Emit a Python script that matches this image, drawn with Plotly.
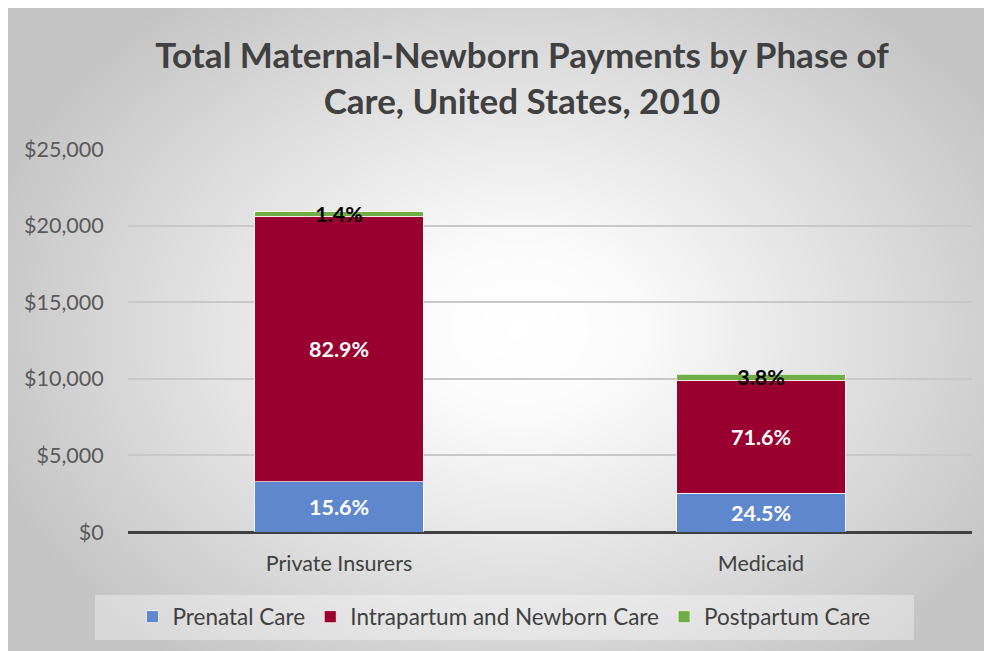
import numpy as np
import plotly.graph_objects as go

# Data
payers = ["Private Insurers", "Medicaid"]
phases = ["Prenatal Care", "Intrapartum and Newborn Care", "Postpartum Care"]
prenatal = [3265, 2527]
intrapartum = [17351, 7384]
postpartum = [293, 392]
prenatal_pct = ["15.6%", "24.5%"]
intrapartum_pct = ["82.9%", "71.6%"]
postpartum_pct = ["1.4%", "3.8%"]
y_ticks = [0, 5000, 10000, 15000, 20000, 25000]
y_tick_text = ["$0", "$5,000", "$10,000", "$15,000", "$20,000", "$25,000"]

colors = ["#5f87cd", "#990030", "#70ad47"]
FONT = "Lato"
W, H = 992, 651

fig = go.Figure()

# radial grey->white background (decorative), on the first subplot so bars draw above it
gx = np.linspace(-60, W + 60, 90)
gy = np.linspace(-60, H + 60, 70)
GX, GY = np.meshgrid(gx, gy)
r = np.sqrt(((GX - 512) / 560) ** 2 + ((GY - 322) / 420) ** 2)
shade = np.clip(r, 0, 1)
fig.add_trace(go.Heatmap(
    x=gx, y=gy, z=shade, xaxis="x", yaxis="y",
    colorscale=[[0, "#ffffff"], [0.2, "#fbfbfb"], [1, "#c4c4c4"]],
    zmin=0, zmax=1, zsmooth="best", showscale=False, hoverinfo="skip",
))

series = [
    (phases[0], prenatal, prenatal_pct, colors[0], "white"),
    (phases[1], intrapartum, intrapartum_pct, colors[1], "white"),
    (phases[2], postpartum, postpartum_pct, colors[2], "black"),
]
for name, vals, txt, col, tcol in series:
    fig.add_trace(go.Bar(
        x=payers, y=vals, name=name, xaxis="x2", yaxis="y2",
        marker={"color": col, "line": {"color": "rgba(255,255,255,0.7)", "width": 1}},
        text=txt, textposition="inside", insidetextanchor="middle",
        constraintext="none", cliponaxis=False,
        textfont={"family": FONT, "size": 21.5, "color": tcol, "weight": "bold"},
    ))

fig.update_layout(
    width=W, height=H,
    margin={"l": 0, "r": 0, "t": 0, "b": 0, "autoexpand": False},
    paper_bgcolor="white",
    plot_bgcolor="rgba(0,0,0,0)",
    barmode="stack",
    bargap=0.6,
    font={"family": FONT, "color": "#595959"},
    title={
        "text": "Total Maternal-Newborn Payments by Phase of<br>Care, United States, 2010",
        "x": 514 / W, "xanchor": "center", "y": 1 - 60 / H, "yanchor": "top",
        "font": {"family": FONT, "size": 35, "color": "#404040", "weight": "bold"},
    },
    xaxis={"domain": [0, 1], "range": [0, W], "visible": False, "fixedrange": True, "automargin": False},
    yaxis={"domain": [0, 1], "range": [H, 0], "visible": False, "fixedrange": True, "automargin": False},
    xaxis2={
        "domain": [120 / W, 964 / W], "anchor": "y2", "automargin": False,
        "ticks": "outside", "ticklen": 12, "tickcolor": "rgba(0,0,0,0)",
        "tickfont": {"size": 21.5, "color": "#404040"},
        "showgrid": False, "showline": False, "zeroline": False,
    },
    yaxis2={
        "domain": [(H - 524) / H, (H - 141) / H], "anchor": "x2", "automargin": False,
        "range": [0, 25000],
        "tickvals": y_ticks, "ticktext": y_tick_text,
        "ticks": "outside", "ticklen": 19, "tickcolor": "rgba(0,0,0,0)",
        "tickfont": {"size": 21.5, "color": "#595959"},
        "showgrid": True, "gridcolor": "#c8c8c8", "gridwidth": 1.5,
        "zeroline": True, "zerolinecolor": "#404040", "zerolinewidth": 3,
        "showline": False,
    },
    showlegend=True,
    legend={
        "orientation": "h", "x": 496 / W, "xanchor": "center",
        "y": (H - 609) / H, "yanchor": "middle",
        "bgcolor": "rgba(0,0,0,0)",
        "font": {"family": FONT, "size": 22.5, "color": "#404040"},
        "traceorder": "normal",
    },
    shapes=[{
        "type": "rect", "xref": "paper", "yref": "paper",
        "x0": 87 / W, "x1": 906 / W, "y0": (H - 632) / H, "y1": (H - 587) / H,
        "fillcolor": "rgba(255,255,255,0.35)", "line": {"width": 0}, "layer": "above",
    }],
)

fig.write_html("out.html")
